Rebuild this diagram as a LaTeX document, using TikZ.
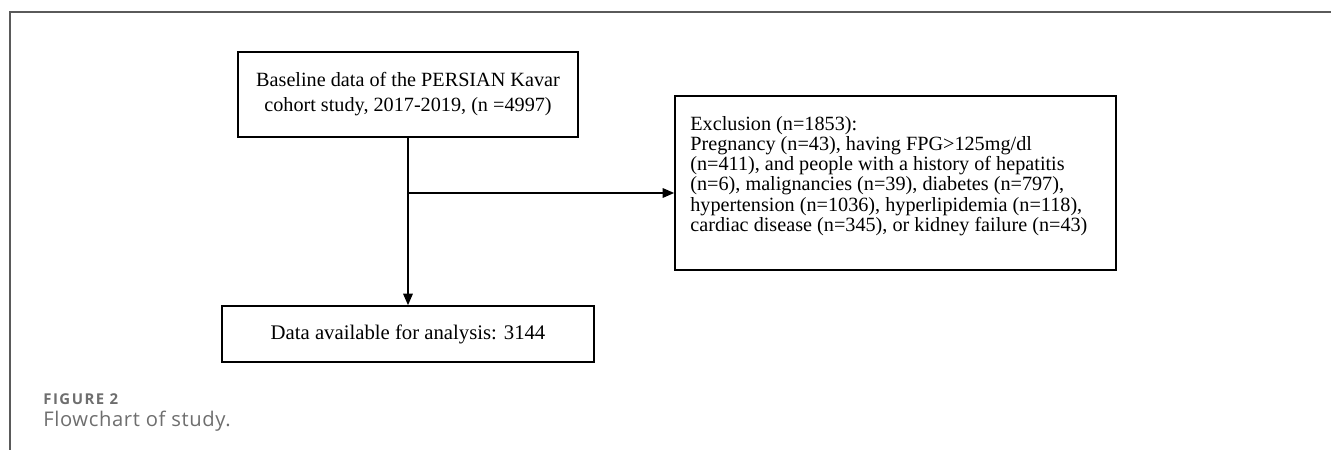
\documentclass[tikz,border=0pt]{standalone}
\usepackage{fontspec}
\setmainfont{Liberation Serif}
\newfontfamily\capfont{Open Sans}
\newfontfamily\capheadfont[LetterSpace=10]{Open Sans}
\newfontfamily\captextfont[LetterSpace=3]{Open Sans}
\usetikzlibrary{positioning,arrows.meta}
\definecolor{capgray}{HTML}{6E6E6E}
\definecolor{framegray}{HTML}{5A5A5A}
\tikzset{
    flowbox/.style={draw, line width=0.9pt, rectangle, inner sep=0pt},
    flowarrow/.style={line width=0.9pt, -{Triangle[length=0.23cm,width=0.19cm]}},
}
\begin{document}
\begin{tikzpicture}[x=0.2mm,y=-0.2mm]
        \useasboundingbox (0,0) rectangle (1331,450);
        %% Frame
        \draw[framegray, line width=1pt] (10,450) -- (10,12) -- (1331,12);
        %% Baseline box
        \node[flowbox, minimum width=6.8cm, minimum height=1.7cm, align=center,
              font=\fontsize{11.5}{14.2}\selectfont] (base) at (408,94.5)
              {Baseline data of the PERSIAN Kavar\\cohort study, 2017-2019, (n =4997)};
        %% Exclusion box
        \node[flowbox, minimum width=8.82cm, minimum height=3.48cm] (excl) at (895.5,183) {};
        \node[anchor=north west, inner sep=0pt, align=left,
              font=\fontsize{11.5}{9.3}\selectfont] (excltext) at (690,116)
              {Exclusion (n=1853):\\
               Pregnancy (n=43), having FPG>125mg/dl\\
               (n=411), and people with a history of hepatitis\\
               (n=6), malignancies (n=39), diabetes (n=797),\\
               hypertension (n=1036), hyperlipidemia (n=118),\\
               cardiac disease (n=345), or kidney failure (n=43)};
        %% Analysis box
        \node[flowbox, minimum width=7.44cm, minimum height=1.12cm,
              font=\fontsize{11.8}{14}\selectfont] (avail) at (408,334)
              {Data available for analysis: 3144};
        %% Arrows
        \coordinate (split) at (408,193);
        \draw[flowarrow] (base.south) -- (avail.north);
        \draw[flowarrow] (split) -- (split -| excl.west);
        %% Caption
        \node[anchor=base west, inner sep=0pt, text=capgray,
              font=\capheadfont\bfseries\fontsize{8.5}{10}\selectfont] (fignum) at (43,405) {FIGURE 2};
        \node[anchor=base west, inner sep=0pt, text=capgray,
              font=\captextfont\fontsize{11.5}{13}\selectfont] (figcap) at (43,426.7) {Flowchart of study.};
\end{tikzpicture}
\end{document}
